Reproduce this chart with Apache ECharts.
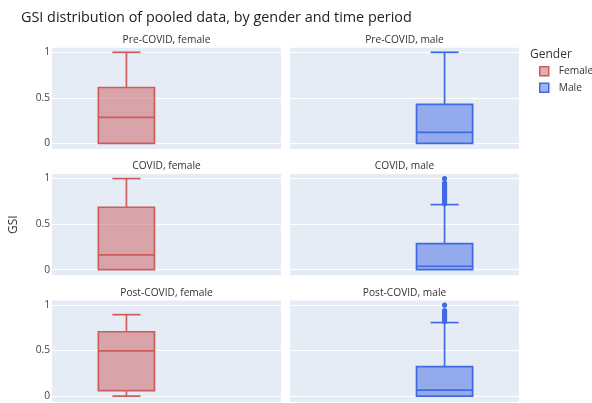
<!DOCTYPE html>
<html>
<head>
<meta charset="utf-8">
<script src="https://cdn.jsdelivr.net/npm/echarts@6/dist/echarts.min.js"></script>
<style>
html,body{margin:0;padding:0;background:#fff;}
#chart{width:592px;height:403px;}
</style>
</head>
<body>
<div id="chart"></div>
<script>
// ---- data ----
const periods = ['Pre-COVID', 'COVID', 'Post-COVID'];
const genders = ['Female', 'Male'];
// box stats: [min, Q1, median, Q3, max(upper whisker)]
const femaleBoxes = [
  [0, 0, 0.285, 0.613, 1.0],
  [0, 0, 0.161, 0.685, 1.0],
  [0, 0.061, 0.498, 0.707, 0.895]
];
const maleBoxes = [
  [0, 0, 0.12, 0.427, 1.0],
  [0, 0, 0.037, 0.286, 0.714],
  [0, 0, 0.065, 0.325, 0.808]
];
const femaleOutliers = [[], [], []];
const maleOutliers = [
  [],
  [0.725, 0.74, 0.755, 0.77, 0.785, 0.80, 0.815, 0.83, 0.845, 0.86, 0.875, 0.89, 0.905, 0.92, 0.935, 0.95, 1.0],
  [0.82, 0.835, 0.85, 0.865, 0.88, 0.895, 0.91, 0.925, 0.94, 1.0]
];
const yTicks = [0, 0.5, 1];
const yTickLabels = ['0', '0.5', '1'];

// ---- layout / style ----
const FONT = '"Open Sans", "Noto Sans", sans-serif';
const TXT_TITLE = '#222222';
const TXT = '#333333';
const TXT_TICK = '#444444';
const COLORS = { Female: '#CD5C5C', Male: '#4169E1' };
const FILLS = { Female: 'rgba(205,92,92,0.5)', Male: 'rgba(65,105,225,0.5)' };
const OFFSET = { Female: -0.175, Male: 0.175 };
const BOX_W = 0.245;
const Y_MIN = -0.0626, Y_MAX = 1.0505;
const colLeft = [52, 290], panelW = 229;
const rowTop = [47.7, 174, 300.5], panelH = 101.3;
const LW = 1.7;

const chart = echarts.init(document.getElementById('chart'), null, { renderer: 'canvas' });

const grids = [], xAxes = [], yAxes = [], series = [], titles = [];
titles.push({
  text: 'GSI distribution of pooled data, by gender and time period',
  left: 21, top: 11, padding: 0,
  textStyle: { fontFamily: FONT, fontSize: 14.4, fontWeight: 'normal', color: TXT_TITLE }
});
titles.push({
  text: 'Gender', left: 530, top: 49, padding: 0,
  textStyle: { fontFamily: FONT, fontSize: 12, fontWeight: 'normal', color: TXT }
});

function boxRenderer(gender) {
  return function (params, api) {
    const off = OFFSET[gender];
    const xc = api.coord([off, 0])[0];
    const w = api.size([BOX_W, 0])[0];
    const y = k => api.coord([off, api.value(k)])[1];
    const yMin = y(0), yQ1 = y(1), yMed = y(2), yQ3 = y(3), yMax = y(4);
    const st = { stroke: COLORS[gender], lineWidth: LW, fill: null };
    const children = [
      { type: 'line', shape: { x1: xc, y1: yQ3, x2: xc, y2: yMax }, style: st },
      { type: 'line', shape: { x1: xc - w / 4, y1: yMax, x2: xc + w / 4, y2: yMax }, style: st }
    ];
    if (yMin - yQ1 > 0.5) {
      children.push({ type: 'line', shape: { x1: xc, y1: yQ1, x2: xc, y2: yMin }, style: st });
      children.push({ type: 'line', shape: { x1: xc - w / 4, y1: yMin, x2: xc + w / 4, y2: yMin }, style: st });
    }
    children.push({ type: 'rect', shape: { x: xc - w / 2, y: yQ3, width: w, height: yQ1 - yQ3 },
      style: { fill: FILLS[gender], stroke: COLORS[gender], lineWidth: LW } });
    children.push({ type: 'line', shape: { x1: xc - w / 2, y1: yMed, x2: xc + w / 2, y2: yMed }, style: st });
    return { type: 'group', children: children };
  };
}
function outlierRenderer(gender) {
  return function (params, api) {
    const p = api.coord([OFFSET[gender], api.value(0)]);
    return { type: 'circle', shape: { cx: p[0], cy: p[1], r: 2.6 },
      style: { fill: COLORS[gender], stroke: null } };
  };
}

let gi = 0;
periods.forEach((period, r) => {
  genders.forEach((gender, c) => {
    grids.push({
      left: colLeft[c], top: rowTop[r], width: panelW, height: panelH,
      show: true, backgroundColor: '#E5ECF6', borderWidth: 0, containLabel: false
    });
    xAxes.push({ gridIndex: gi, type: 'value', min: -0.5, max: 0.5, show: false });
    yAxes.push({
      gridIndex: gi, type: 'value', min: Y_MIN, max: Y_MAX,
      axisLine: { show: false },
      axisTick: { show: false, customValues: yTicks },
      axisLabel: {
        show: c === 0, customValues: yTicks, margin: 2,
        formatter: v => yTickLabels[yTicks.indexOf(v)] ?? String(v),
        fontFamily: FONT, fontSize: 10.2, color: TXT_TICK
      },
      splitLine: { show: true, lineStyle: { color: '#ffffff', width: 1 } },
      name: (r === 1 && c === 0) ? 'GSI' : '',
      nameLocation: 'middle', nameGap: 32, nameRotate: 90,
      nameTextStyle: { fontFamily: FONT, fontSize: 12, color: TXT }
    });
    titles.push({
      text: period + ', ' + gender.toLowerCase(),
      left: colLeft[c] + panelW / 2, top: rowTop[r] - 12.5, textAlign: 'center', padding: 0,
      textStyle: { fontFamily: FONT, fontSize: 10.2, fontWeight: 'normal', color: TXT }
    });
    const boxes = gender === 'Female' ? femaleBoxes : maleBoxes;
    const outs = gender === 'Female' ? femaleOutliers : maleOutliers;
    series.push({
      type: 'custom', name: gender, xAxisIndex: gi, yAxisIndex: gi,
      itemStyle: { color: COLORS[gender] },
      renderItem: boxRenderer(gender),
      data: [boxes[r]], silent: true, animation: false
    });
    if (outs[r].length) {
      series.push({
        type: 'custom', name: gender, xAxisIndex: gi, yAxisIndex: gi,
        itemStyle: { color: COLORS[gender] },
        renderItem: outlierRenderer(gender),
        data: outs[r].map(v => [v]), silent: true, animation: false
      });
    }
    gi++;
  });
});

chart.setOption({
  backgroundColor: '#ffffff',
  animation: false,
  title: titles,
  grid: grids,
  xAxis: xAxes,
  yAxis: yAxes,
  legend: {
    orient: 'vertical', left: 539, top: 66, padding: 0,
    itemWidth: 9, itemHeight: 9, itemGap: 6,
    textStyle: { fontFamily: FONT, fontSize: 10.2, color: TXT, padding: [0, 0, 0, 5] },
    data: genders.map(g => ({
      name: g, icon: 'rect',
      itemStyle: { color: FILLS[g], borderColor: COLORS[g], borderWidth: 1.5 }
    }))
  },
  series: series
});
</script>
</body>
</html>
